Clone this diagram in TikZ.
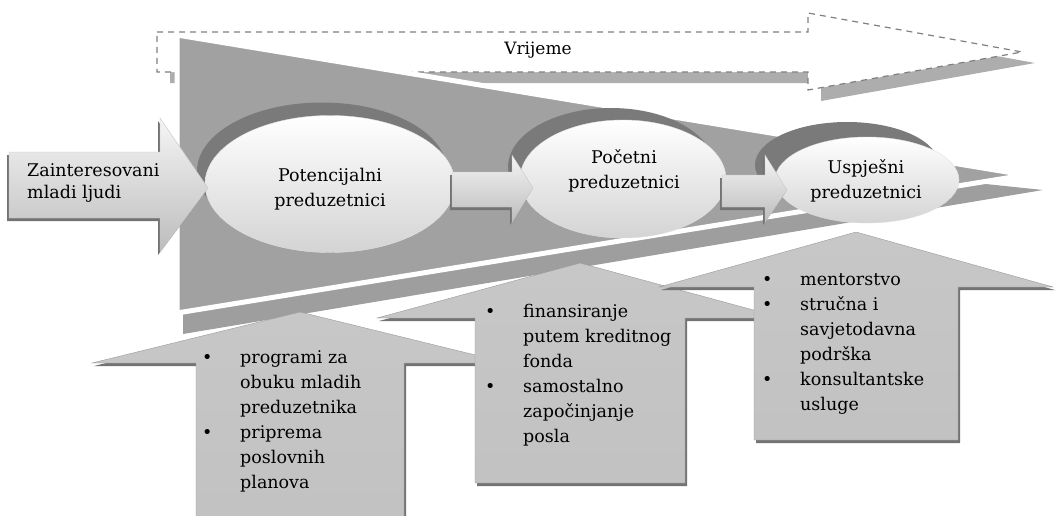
\documentclass[tikz,border=0pt]{standalone}
\usepackage{amsmath}
\usepackage{fontspec}
\setmainfont{DejaVu Serif}
\usepackage{tikz}
\usetikzlibrary{shapes.geometric}

\begin{document}
\begin{tikzpicture}
[x=1pt,y=-1pt,
  textDecorate/.style={font=\fontsize{17.5}{25}\selectfont,text=black,inner sep=0pt},
  ringDecorate/.style={shape=ellipse,fill=black!52,inner sep=0pt},
  ellipseDecorate/.style={shape=ellipse,inner sep=0pt,draw=black!12,top color=white,bottom color=black!17},
  arrowDecorate/.style={draw=black!22,top color=black!4,bottom color=black!26},
  shadowDecorate/.style={fill=black!55},
  upDecorate/.style={draw=black!40,top color=black!22,middle color=black!36,bottom color=black!24},
  dashDecorate/.style={draw=black!50,dash pattern=on 6pt off 5pt,line width=1.2pt,fill=white}]
\useasboundingbox (0,0) rectangle (1057,515);
%% time arrow with its shadow
\path[fill=black!32,shift={(13,11)}] (157,32) -- (808,32) -- (808,13) -- (1022,52)
  -- (808,90) -- (808,72) -- (157,72) -- cycle;
\path[dashDecorate] (157,32) -- (808,32) -- (808,13) -- (1022,52)
  -- (808,90) -- (808,72) -- (157,72) -- cycle;
\node[textDecorate,font=\fontsize{17}{24}\selectfont] (vrijeme) at (538,50) {Vrijeme};
%% funnel
\path[fill=black!38] (183,100) -- (1043,190) -- (183,334) -- cycle;
\path[fill=black!37,draw=white,line width=5pt,line join=round] (177,35) -- (1025,175) -- (177,313) -- cycle;
%% stages
\foreach \nodename/\x/\y/\rx/\ry/\w/\h in {pot/330/184/322/171/250/137, poc/623/179/611/167/206/118, usp/867/180/847/165/184/86} {
  \node[ringDecorate,minimum width=\w pt,minimum height=\h pt] (\nodename ring) at (\rx,\ry) {};
  \node[ellipseDecorate,minimum width=\w pt,minimum height=\h pt] (\nodename) at (\x,\y) {};
}
\node[textDecorate,align=center] (potText) at (330,189) {Potencijalni\\preduzetnici};
\node[textDecorate,align=center] (pocText) at (624,171) {Po\v{c}etni\\preduzetnici};
\node[textDecorate,align=center] (uspText) at (866,181) {Uspje\v{s}ni\\preduzetnici};
%% connectors
\foreach \shade/\sx/\sy in {shadowDecorate/-2/3, arrowDecorate/0/0} {
  \path[\shade,shift={(\sx,\sy)}] (9,152) -- (160,152) -- (160,118) -- (208,188)
    -- (160,252) -- (160,218) -- (9,218) -- cycle;
  \path[\shade,shift={(\sx,\sy)}] (452,172) -- (512,172) -- (512,155) -- (533,188)
    -- (512,222) -- (512,207) -- (452,207) -- cycle;
  \path[\shade,shift={(\sx,\sy)}] (722,175) -- (765,175) -- (765,155) -- (787,190)
    -- (765,222) -- (765,207) -- (722,207) -- cycle;
}
\node[textDecorate,anchor=west,align=left,font=\fontsize{17.5}{22}\selectfont] (mladi) at (27,183) {Zainteresovani\\mladi ljudi};
%% support arrows
\foreach \cx/\peak/\shoulder/\half/\body/\bottom in {300/312/363/208/104/520, 580/263/318/203/105/483, 856/232/287/197/102/440} {
  \foreach \shade/\sx/\sy in {shadowDecorate/2/3, upDecorate/0/0} {
    \path[\shade,shift={(\sx,\sy)}] (\cx-\half,\shoulder) -- (\cx,\peak) -- (\cx+\half,\shoulder)
      -- (\cx+\body,\shoulder) -- (\cx+\body,\bottom) -- (\cx-\body,\bottom)
      -- (\cx-\body,\shoulder) -- cycle;
  }
}
\node[textDecorate,anchor=north west] (obuka) at (202,345.5) {\begin{tabular}{@{}p{38pt}@{}l@{}}
  \textbullet & programi za\\ & obuku mladih\\ & preduzetnika\\
  \textbullet & priprema\\ & poslovnih\\ & planova
\end{tabular}};
\node[textDecorate,anchor=north west] (fond) at (485,299.5) {\begin{tabular}{@{}p{38pt}@{}l@{}}
  \textbullet & finansiranje\\ & putem kreditnog\\ & fonda\\
  \textbullet & samostalno\\ & zapo\v{c}injanje\\ & posla
\end{tabular}};
\node[textDecorate,anchor=north west] (mentor) at (762,267.5) {\begin{tabular}{@{}p{38pt}@{}l@{}}
  \textbullet & mentorstvo\\
  \textbullet & stru\v{c}na i\\ & savjetodavna\\ & podr\v{s}ka\\
  \textbullet & konsultantske\\ & usluge
\end{tabular}};
\end{tikzpicture}
\end{document}
